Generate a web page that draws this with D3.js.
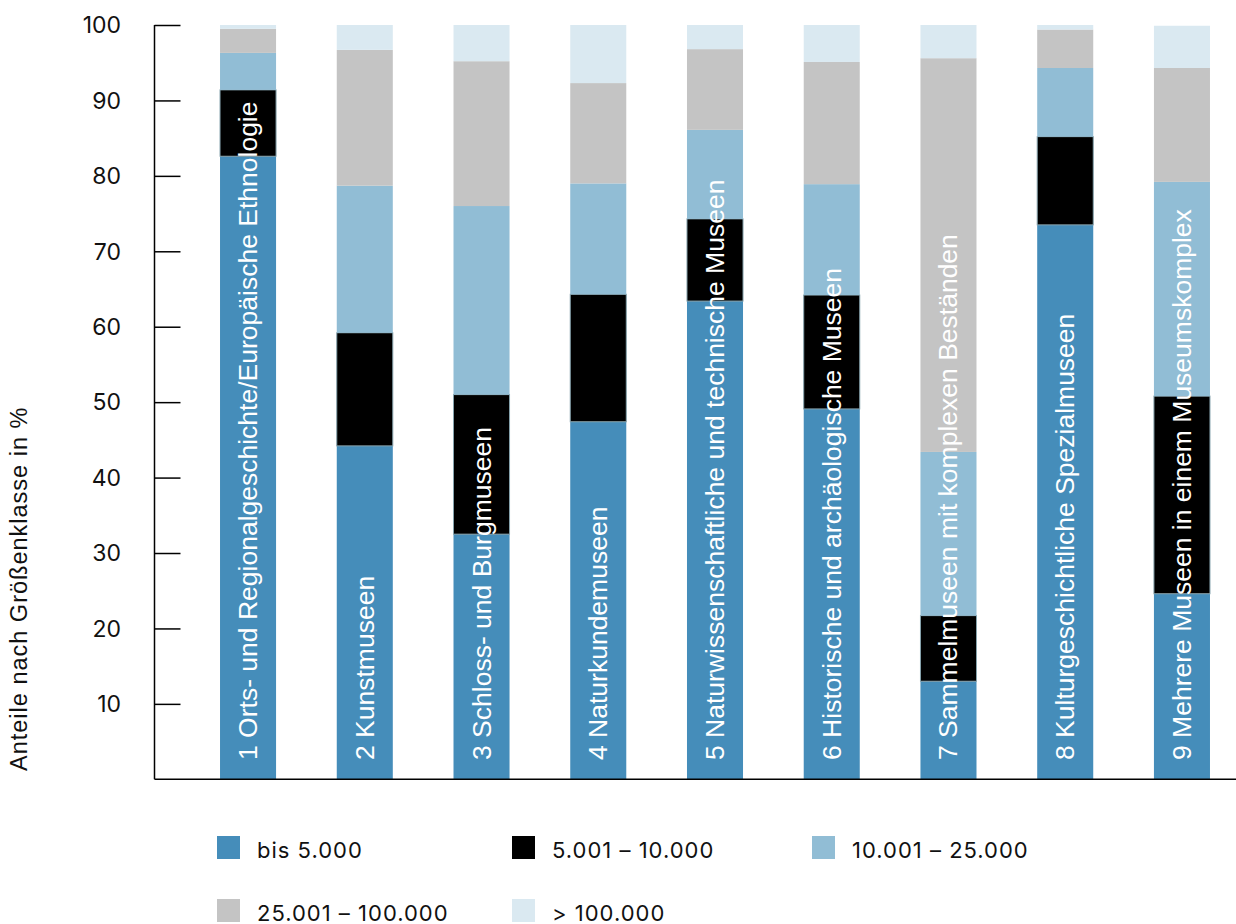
<!DOCTYPE html>
<html><head><meta charset="utf-8">
<script src="https://cdn.jsdelivr.net/npm/d3@7"></script>
<style>body{margin:0;background:#fff}svg{display:block}</style>
</head><body>
<script>
const categories = [
  "1 Orts- und Regionalgeschichte/Europäische Ethnologie",
  "2 Kunstmuseen",
  "3 Schloss- und Burgmuseen",
  "4 Naturkundemuseen",
  "5 Naturwissenschaftliche und technische Museen",
  "6 Historische und archäologische Museen",
  "7 Sammelmuseen mit komplexen Beständen",
  "8 Kulturgeschichtliche Spezialmuseen",
  "9 Mehrere Museen in einem Museumskomplex"
];
const seriesNames = ["bis 5.000", "5.001 – 10.000", "10.001 – 25.000", "25.001 – 100.000", "> 100.000"];
const bis5000      = [82.6, 44.2, 32.5, 47.4, 63.4, 49.1, 13.0, 73.5, 24.6];
const s5001_10000  = [ 8.8, 15.0, 18.5, 16.9, 10.9, 15.1,  8.7, 11.7, 26.2];
const s10001_25000 = [ 4.9, 19.5, 25.0, 14.7, 11.8, 14.7, 21.7,  9.1, 28.4];
const s25001_100000= [ 3.2, 18.0, 19.2, 13.3, 10.7, 16.2, 52.2,  5.1, 15.1];
const over100000   = [ 0.5,  3.3,  4.8,  7.7,  3.2,  4.9,  4.4,  0.6,  5.6];
const yTicks = [10,20,30,40,50,60,70,80,90,100];
const colors = ["#458dba", "#000000", "#91bdd5", "#c4c4c4", "#dae9f1"];
const yTitle = "Anteile nach Größenklasse in %";

const seriesValues = [bis5000, s5001_10000, s10001_25000, s25001_100000, over100000];
const rows = categories.map((c,i)=>{const o={cat:c}; seriesNames.forEach((s,j)=>o[s]=seriesValues[j][i]); return o;});
const stacked = d3.stack().keys(seriesNames)(rows);

const W=1236,H=924;
const svg=d3.select("body").append("svg").attr("width",W).attr("height",H);
const y=d3.scaleLinear().domain([0,100]).range([779.3,25]);
const x=d3.scaleBand().domain(categories).range([155,1275]).paddingInner(0.52).paddingOuter(0.557);

const g=svg.append("g");
stacked.forEach((layer,j)=>{
  g.selectAll(null).data(layer).enter().append("rect")
    .attr("x",d=>x(d.data.cat)).attr("width",x.bandwidth())
    .attr("y",d=>y(d[1])).attr("height",d=>y(d[0])-y(d[1]))
    .attr("fill",colors[j])
    .attr("stroke",j===1?"#86a3ad":"none").attr("stroke-width",j===1?1:0);
});

// axes
const yAxis=d3.axisRight(y).tickValues(yTicks).tickSize(26).tickFormat("");
const ag=svg.append("g").attr("transform","translate(154.5,0)").call(yAxis);
ag.select(".domain").remove();
ag.selectAll(".tick line").attr("stroke","#000").attr("stroke-width",1.5);
svg.append("line").attr("x1",154.5).attr("x2",154.5).attr("y1",y(100)).attr("y2",y(0)).attr("stroke","#000").attr("stroke-width",1.5);
svg.append("line").attr("x1",154.5).attr("x2",1236).attr("y1",y(0)).attr("y2",y(0)).attr("stroke","#000").attr("stroke-width",1.5);
svg.append("g").selectAll("text").data(yTicks).enter().append("text")
  .attr("x",121).attr("y",d=>y(d)).attr("dy","0.36em").attr("text-anchor","end")
  .attr("font-family","Inter, 'Liberation Sans', sans-serif").attr("font-size",23).attr("fill","#111")
  .text(d=>d);

// bar labels
svg.append("g").selectAll("text").data(categories).enter().append("text")
  .attr("transform",d=>`translate(${x(d)+x.bandwidth()/2+9},760) rotate(-90)`)
  .attr("font-family","'Liberation Sans', Arial, sans-serif").attr("font-size",26.5).attr("fill","#fff")
  .text(d=>d);

// y title
svg.append("text").attr("transform","translate(27,771) rotate(-90)")
  .attr("font-family","'Liberation Sans', Arial, sans-serif").attr("font-size",23.5)
  .attr("letter-spacing",1).attr("fill","#111")
  .text(yTitle);

// legend
const legPos=[[217,836],[512,836],[812,836],[217,899],[512,899]];
const lg=svg.append("g").selectAll("g").data(seriesNames).enter().append("g")
  .attr("transform",(d,i)=>`translate(${legPos[i][0]},${legPos[i][1]})`);
lg.append("rect").attr("width",23).attr("height",23).attr("fill",(d,i)=>colors[i]);
lg.append("text").attr("x",40).attr("y",21.5).attr("font-family","Inter, 'Liberation Sans', sans-serif")
  .attr("font-size",22).attr("letter-spacing",1).attr("fill","#111").text(d=>d);
</script>
</body></html>
